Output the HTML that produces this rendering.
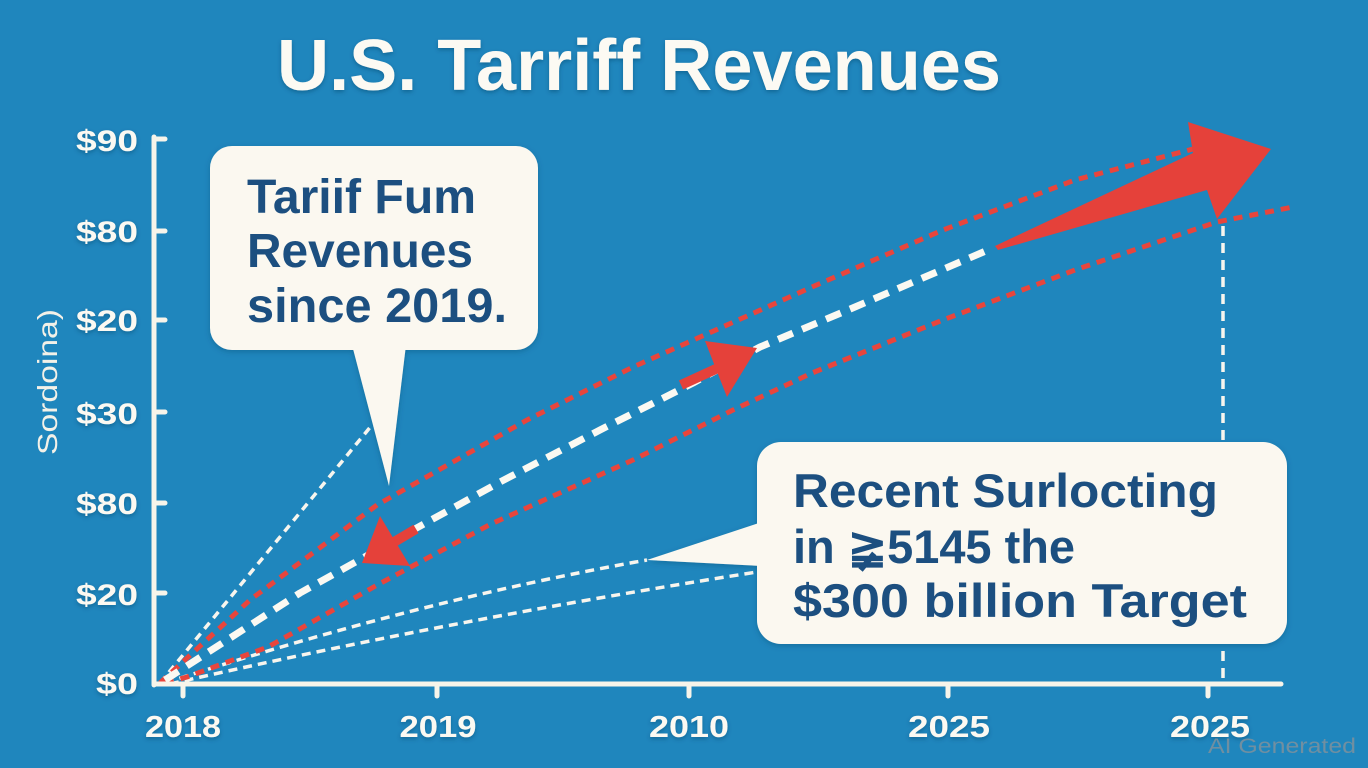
<!DOCTYPE html>
<html>
<head>
<meta charset="utf-8">
<style>
  html,body{margin:0;padding:0;background:#1f86bd;}
  svg{display:block;}
  text{font-family:"Liberation Sans",sans-serif;}
</style>
</head>
<body>
<svg width="1368" height="768" viewBox="0 0 1368 768" xmlns="http://www.w3.org/2000/svg">
  <defs>
    <filter id="sh" x="-5%" y="-20%" width="110%" height="150%">
      <feDropShadow dx="0" dy="2" stdDeviation="2" flood-color="#0b3f66" flood-opacity="0.45"/>
    </filter>
    <filter id="sh2" x="-5%" y="-10%" width="110%" height="130%">
      <feDropShadow dx="0" dy="2" stdDeviation="3" flood-color="#0b3f66" flood-opacity="0.35"/>
    </filter>
  </defs>
  <rect width="1368" height="768" fill="#1f86bd"/>

  <!-- Title -->
  <text x="277" y="90" font-size="72" font-weight="bold" fill="#fcfaf3" textLength="724" lengthAdjust="spacingAndGlyphs" filter="url(#sh)">U.S. Tarriff Revenues</text>

  <!-- Y axis label -->
  <text transform="translate(57,382) rotate(-90)" text-anchor="middle" font-size="28" fill="#f3f1e8" textLength="146" lengthAdjust="spacingAndGlyphs">Sordoina)</text>

  <!-- Y tick labels -->
  <g font-size="30" font-weight="bold" fill="#fbf9f2" text-anchor="end" filter="url(#sh)">
    <text x="138" y="151" textLength="62" lengthAdjust="spacingAndGlyphs">$90</text>
    <text x="138" y="242" textLength="62" lengthAdjust="spacingAndGlyphs">$80</text>
    <text x="138" y="331" textLength="62" lengthAdjust="spacingAndGlyphs">$20</text>
    <text x="138" y="424" textLength="62" lengthAdjust="spacingAndGlyphs">$30</text>
    <text x="138" y="514" textLength="62" lengthAdjust="spacingAndGlyphs">$80</text>
    <text x="138" y="605" textLength="62" lengthAdjust="spacingAndGlyphs">$20</text>
    <text x="138" y="694" textLength="42" lengthAdjust="spacingAndGlyphs">$0</text>
  </g>

  <!-- X tick labels -->
  <g font-size="31" font-weight="bold" fill="#fbf9f2" text-anchor="middle" filter="url(#sh)">
    <text x="183" y="737" textLength="76" lengthAdjust="spacingAndGlyphs">2018</text>
    <text x="438" y="737" textLength="77" lengthAdjust="spacingAndGlyphs">2019</text>
    <text x="689" y="737" textLength="80" lengthAdjust="spacingAndGlyphs">2010</text>
    <text x="949" y="737" textLength="82" lengthAdjust="spacingAndGlyphs">2025</text>
    <text x="1210" y="737" textLength="80" lengthAdjust="spacingAndGlyphs">2025</text>
  </g>

  <!-- Lines -->
  <g fill="none" stroke-linejoin="round">
    <!-- steep white dotted -->
    <path d="M160,683 L372,425" stroke="#f7f5ee" stroke-width="3.5" stroke-dasharray="8 6"/>
    <!-- lower white dotted lines -->
    <path d="M165,683 Q420,600 647,560" stroke="#f7f5ee" stroke-width="3.5" stroke-dasharray="9 6"/>
    <path d="M170,684 Q450,620 757,572" stroke="#f7f5ee" stroke-width="3.5" stroke-dasharray="9 6"/>
    <!-- vertical dashed -->
    <path d="M1223,226 L1223,684" stroke="#f7f5ee" stroke-width="3.5" stroke-dasharray="10 7"/>
    <!-- red upper -->
    <polyline points="160,683 250,600 377,505 527,420 633,367 812,287 943,230 1075,180 1193,149" stroke="#e8453c" stroke-width="5" stroke-dasharray="9 7"/>
    <!-- red lower -->
    <polyline points="165,683 187,677 268,647 379,584 491,524 633,460 733,410 812,373 943,320 1075,270 1217,222 1293,207" stroke="#e8453c" stroke-width="5" stroke-dasharray="9 7"/>
    <!-- white thick dashed -->
    <polyline points="165,680 300,593 413,530 500,482 600,430 693,383 760,347 855,307 988,250" stroke="#fbf9f2" stroke-width="7" stroke-dasharray="16 10"/>
  </g>

  <!-- Red arrows -->
  <g fill="#e5413a">
    <line x1="384" y1="548" x2="416" y2="529" stroke="#e5413a" stroke-width="10"/>
    <polygon points="362,563 380,516 410,566"/>
    <line x1="681" y1="385" x2="718" y2="368" stroke="#e5413a" stroke-width="10"/>
    <polygon points="757,348 705,341 727,397"/>
    <polygon points="995,246 1193,153 1188,122 1271,149 1217,219 1207,190 998,250"/>
  </g>

  <!-- Axes -->
  <g stroke="#f7f4ea" stroke-width="5" stroke-linecap="round" fill="none">
    <line x1="154" y1="137" x2="154" y2="685"/>
    <line x1="154" y1="684" x2="1281" y2="684"/>
    <line x1="154" y1="139" x2="165" y2="139"/>
    <line x1="154" y1="231" x2="165" y2="231"/>
    <line x1="154" y1="320" x2="165" y2="320"/>
    <line x1="154" y1="412" x2="165" y2="412"/>
    <line x1="154" y1="503" x2="165" y2="503"/>
    <line x1="154" y1="593" x2="165" y2="593"/>
    <line x1="183" y1="684" x2="183" y2="696"/>
    <line x1="437" y1="684" x2="437" y2="696"/>
    <line x1="689" y1="684" x2="689" y2="696"/>
    <line x1="948" y1="684" x2="948" y2="696"/>
    <line x1="1208" y1="684" x2="1208" y2="696"/>
  </g>

  <!-- Callout 1 -->
  <g filter="url(#sh2)">
    <rect x="210" y="146" width="328" height="204" rx="22" ry="22" fill="#fbf8f0"/>
    <polygon points="352,345 406,345 389,486" fill="#fbf8f0"/>
  </g>
  <g font-size="48" font-weight="bold" fill="#1c4f80">
    <text x="247" y="213" textLength="229" lengthAdjust="spacingAndGlyphs">Tariif Fum</text>
    <text x="247" y="267" textLength="226" lengthAdjust="spacingAndGlyphs">Revenues</text>
    <text x="247" y="322" textLength="260" lengthAdjust="spacingAndGlyphs">since 2019.</text>
  </g>

  <!-- Callout 2 -->
  <g filter="url(#sh2)">
    <rect x="757" y="442" width="530" height="202" rx="24" ry="24" fill="#fbf8f0"/>
    <polygon points="762,522 647,560 762,566" fill="#fbf8f0"/>
  </g>
  <g font-size="47" font-weight="bold" fill="#1c4f80">
    <text x="793" y="507" textLength="425" lengthAdjust="spacingAndGlyphs">Recent Surlocting</text>
    <text x="793" y="563" textLength="282" lengthAdjust="spacingAndGlyphs">in ≩5145 the</text>
    <text x="793" y="617" textLength="454" lengthAdjust="spacingAndGlyphs">$300 billion Target</text>
  </g>

  <!-- Watermark -->
  <text x="1208" y="753" font-size="21" fill="#7f909c" fill-opacity="0.85" textLength="148" lengthAdjust="spacingAndGlyphs">AI Generated</text>
</svg>
</body>
</html>
